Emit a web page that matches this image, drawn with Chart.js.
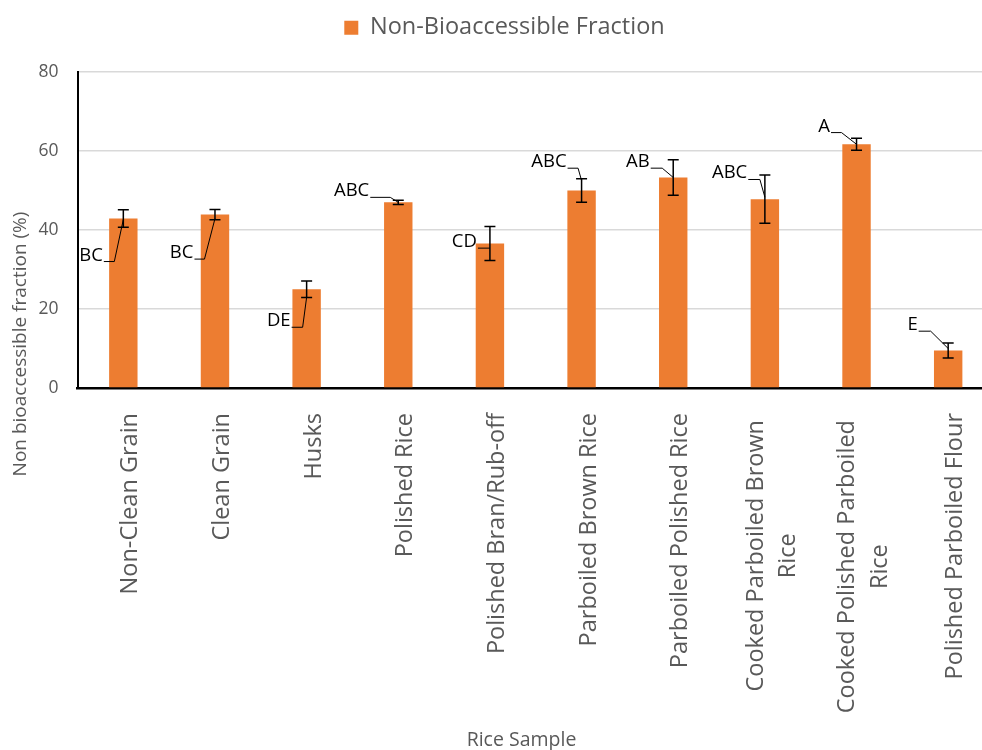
<!DOCTYPE html>
<html>
<head>
<meta charset="utf-8">
<script src="https://cdn.jsdelivr.net/npm/chart.js@4.4.1/dist/chart.umd.min.js"></script>
<style>
  html, body { margin: 0; padding: 0; background: #fff; overflow: hidden; }
</style>
</head>
<body>
<canvas id="GraphFraccion" width="994" height="750"></canvas>
<script>
// datos
var muestras = [
  "Non-Clean Grain",
  "Clean Grain",
  "Husks",
  "Polished Rice",
  "Polished Bran/Rub-off",
  "Parboiled Brown Rice",
  "Parboiled Polished Rice",
  ["Cooked Parboiled Brown", "Rice"],
  ["Cooked Polished Parboiled", "Rice"],
  "Polished Parboiled Flour",
];
var fraccion = [42.9, 43.9, 25.0, 47.0, 36.6, 50.0, 53.3, 47.8, 61.7, 9.5];
var errores = [2.2, 1.3, 2.1, 0.55, 4.3, 2.95, 4.5, 6.1, 1.5, 1.9];
var letras = ["BC", "BC", "DE", "ABC", "CD", "ABC", "AB", "ABC", "A", "E"];
var ticksY = [0, 20, 40, 60, 80];

// donde va cada letra respecto a la barra: [fin texto dx, linea dy, codo dx, destino dy]
var posLetras = [
  [-20.5, 43, -9, 1],
  [-21.5, 44.5, -10.5, 4],
  [-16, 38, -4, 8],
  [-29, -5, -8, 0],
  [-13, 4.7, 0, 4.7],
  [-15, -22.3, -3.5, -10],
  [-23.5, -9.3, -11, 0],
  [-17.6, -19.7, -5, -2],
  [-26.5, -11.7, -15, 0],
  [-30.5, -19.3, -17.5, -2],
];

var FUENTE = "'Open Sans', sans-serif";
var GRIS = "#595959";
var NARANJA = "#ED7D31";

var barrasError = {
  id: "barrasError",
  afterDatasetsDraw: function (chart) {
    var ctx = chart.ctx;
    var ejeY = chart.scales.y;
    var meta = chart.getDatasetMeta(0);
    ctx.save();
    ctx.strokeStyle = "#000";
    ctx.lineWidth = 1.5;
    meta.data.forEach(function (barra, i) {
      var cx = barra.x;
      var arriba = ejeY.getPixelForValue(fraccion[i] + errores[i]);
      var abajo = ejeY.getPixelForValue(fraccion[i] - errores[i]);
      ctx.beginPath();
      ctx.moveTo(cx, arriba);
      ctx.lineTo(cx, abajo);
      ctx.moveTo(cx - 5.5, arriba);
      ctx.lineTo(cx + 5.5, arriba);
      ctx.moveTo(cx - 5.5, abajo);
      ctx.lineTo(cx + 5.5, abajo);
      ctx.stroke();
    });

    // letras de significancia con su linea guia
    ctx.font = "18.5px " + FUENTE;
    ctx.fillStyle = "#000";
    ctx.textAlign = "right";
    ctx.textBaseline = "alphabetic";
    ctx.lineWidth = 1;
    meta.data.forEach(function (barra, i) {
      var p = posLetras[i];
      var cx = barra.x;
      var top = barra.y;
      var finTexto = cx + p[0];
      var lineaY = top + p[1];
      ctx.fillText(letras[i], finTexto, lineaY - 1);
      ctx.beginPath();
      ctx.moveTo(finTexto + 1, lineaY);
      ctx.lineTo(cx + p[2], lineaY);
      ctx.lineTo(cx, top + p[3]);
      ctx.stroke();
    });
    ctx.restore();
  },
};

var textosEjes = {
  id: "textosEjes",
  afterDraw: function (chart) {
    var ctx = chart.ctx;
    var ejeX = chart.scales.x;
    ctx.save();
    ctx.fillStyle = GRIS;

    // etiquetas del eje x, giradas
    ctx.font = "23.5px " + FUENTE;
    muestras.forEach(function (m, i) {
      var lineas = Array.isArray(m) ? m : [m];
      var cx = ejeX.getPixelForValue(i);
      var ancho = 0;
      lineas.forEach(function (l) {
        ancho = Math.max(ancho, ctx.measureText(l).width);
      });
      var finY = 413 + 7 * (lineas.length - 1);
      lineas.forEach(function (l, j) {
        var base = cx + 14 + (j - (lineas.length - 1) / 2) * 32.5;
        ctx.save();
        ctx.translate(base, finY);
        ctx.rotate(-Math.PI / 2);
        ctx.textAlign = "center";
        ctx.textBaseline = "alphabetic";
        ctx.fillText(l, -ancho / 2, 0);
        ctx.restore();
      });
    });

    // titulos de los ejes
    ctx.font = "19.5px " + FUENTE;
    ctx.textAlign = "center";
    ctx.textBaseline = "middle";
    ctx.fillText("Rice Sample", 521.5, 740);

    ctx.font = "19px " + FUENTE;
    ctx.translate(21, 344);
    ctx.rotate(-Math.PI / 2);
    ctx.fillText("Non bioaccessible fraction (%)", 0, 0);
    ctx.restore();
  },
};

window.onload = function () {
  console.log("inicio");
  const ctx = document.getElementById("GraphFraccion");
  window.graphFraccion = new Chart(ctx, {
    type: "bar",
    data: {
      labels: muestras,
      datasets: [
        {
          label: "Non-Bioaccessible Fraction",
          data: fraccion,
          backgroundColor: NARANJA,
          borderWidth: 0,
          barPercentage: 0.31,
          categoryPercentage: 1,
        },
      ],
    },
    options: {
      responsive: false,
      animation: false,
      // el padding izquierdo solo corre la leyenda, el eje y se achica lo mismo
      layout: { padding: { left: 15, top: 0, right: 0, bottom: 0 } },
      plugins: {
        legend: {
          position: "top",
          labels: {
            color: GRIS,
            font: { family: FUENTE, size: 23.5 },
            boxWidth: 14,
            boxHeight: 14,
            padding: 16,
          },
        },
        // solo deja aire entre la leyenda y el grafico
        subtitle: {
          display: true,
          text: "",
          weight: 500,
          font: { size: 10 },
          padding: { top: 0, bottom: 10.5 },
        },
        tooltip: { enabled: false },
      },
      scales: {
        x: {
          ticks: { display: false },
          grid: { display: false },
          border: { color: "#000", width: 2.5 },
          afterFit: function (scale) {
            scale.height = 750 - 388;
          },
        },
        y: {
          min: 0,
          max: 80,
          afterBuildTicks: function (scale) {
            scale.ticks = ticksY.map(function (v) {
              return { value: v };
            });
          },
          ticks: {
            color: GRIS,
            font: { family: FUENTE, size: 17.5 },
            padding: 19,
          },
          grid: { color: "#d9d9d9", lineWidth: 1.5, drawTicks: false },
          border: { color: "#000", width: 2 },
          afterFit: function (scale) {
            scale.width = 77.5 - 15;
          },
        },
      },
    },
    plugins: [barrasError, textosEjes],
  });
};
</script>
</body>
</html>
